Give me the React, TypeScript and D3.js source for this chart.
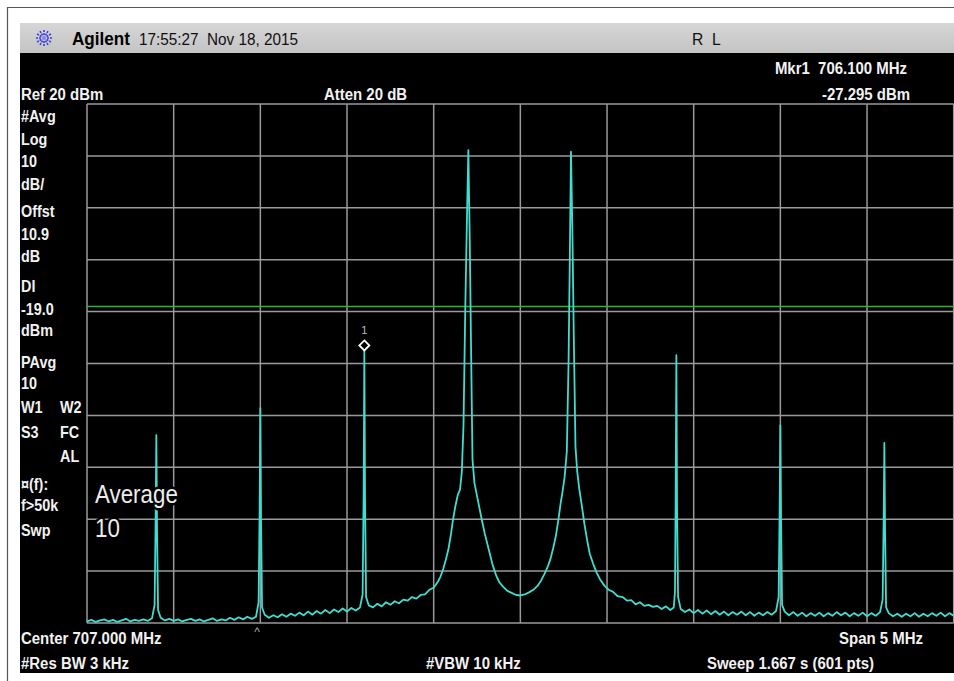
import React from 'react';
import * as d3 from 'd3';

// ---- data ----
const centerMHz = 707.0;
const spanMHz = 5;
const refLevel = 20;
const dbPerDiv = 10;
const divisions = 10;
const displayLine = -19.0;
const markerFreq = 706.1;
const markerLevel = -27.295;

const traceFreq = [
  704.5, 704.525, 704.55, 704.575, 704.6, 704.625, 704.65, 704.675, 704.7, 704.725, 704.75, 704.775, 704.8, 704.825, 704.85, 704.875,
  704.89, 704.896, 704.9, 704.904, 704.91,
  704.925, 704.95, 704.975, 705.0, 705.025, 705.05, 705.075, 705.1, 705.125, 705.15, 705.175, 705.2, 705.225, 705.25, 705.275, 705.3, 705.325, 705.35, 705.375, 705.4, 705.425, 705.45, 705.475,
  705.49, 705.496, 705.5, 705.504, 705.51,
  705.525, 705.55, 705.575, 705.6, 705.625, 705.65, 705.675, 705.7, 705.725, 705.75, 705.775, 705.8, 705.825, 705.85, 705.875, 705.9, 705.925, 705.95, 705.975, 706.0, 706.025, 706.05, 706.075,
  706.09, 706.096, 706.1, 706.104, 706.11,
  706.125, 706.15, 706.175, 706.2, 706.225, 706.25, 706.275, 706.3, 706.325, 706.35, 706.375, 706.4, 706.425, 706.45, 706.475, 706.5, 706.525, 706.54, 706.555, 706.57, 706.585, 706.6, 706.612, 706.625, 706.64, 706.652, 706.662,
  706.672, 706.682, 706.692, 706.7, 706.708, 706.716, 706.724,
  706.735, 706.75, 706.765, 706.78, 706.795, 706.81, 706.825, 706.84, 706.86, 706.88, 706.9, 706.925, 706.95, 706.975, 707.0, 707.025, 707.05, 707.075, 707.1, 707.12, 707.14, 707.16, 707.175, 707.19, 707.205, 707.22, 707.232, 707.242, 707.255, 707.268,
  707.278, 707.286, 707.292, 707.3, 707.308, 707.318,
  707.328, 707.34, 707.355, 707.37, 707.385, 707.4, 707.42, 707.44, 707.46, 707.485, 707.51, 707.535, 707.56, 707.59, 707.615, 707.64, 707.665, 707.69, 707.715, 707.74, 707.765, 707.79, 707.815, 707.84, 707.865, 707.885,
  707.892, 707.896, 707.9, 707.904, 707.91,
  707.925, 707.95, 707.975, 708.0, 708.025, 708.05, 708.075, 708.1, 708.125, 708.15, 708.175, 708.2, 708.225, 708.25, 708.275, 708.3, 708.325, 708.35, 708.375, 708.4, 708.425, 708.45, 708.475,
  708.49, 708.496, 708.5, 708.504, 708.51,
  708.525, 708.55, 708.575, 708.6, 708.625, 708.65, 708.675, 708.7, 708.725, 708.75, 708.775, 708.8, 708.825, 708.85, 708.875, 708.9, 708.925, 708.95, 708.975, 709.0, 709.025, 709.05, 709.075,
  709.09, 709.096, 709.1, 709.104, 709.11,
  709.125, 709.15, 709.175, 709.2, 709.225, 709.25, 709.275, 709.3, 709.325, 709.35, 709.375, 709.4, 709.425, 709.45, 709.475, 709.5,
];

const traceLevel = [
  -79.7, -79.4, -79.8, -79.5, -79.3, -79.7, -79.4, -79.8, -79.5, -79.2, -79.7, -79.4, -79.6, -79.3, -79.6, -79.1,
  -76.5, -60, -43.8, -62, -77.5,
  -79.0, -79.5, -79.2, -79.6, -79.3, -79.7, -79.4, -79.2, -79.6, -79.3, -79.7, -79.4, -79.1, -79.6, -79.3, -79.5, -79.0, -79.4, -78.9, -79.3, -78.8, -79.2, -78.8,
  -76, -58, -38.6, -60, -77,
  -78.4, -79.0, -78.5, -78.9, -78.3, -78.8, -78.2, -78.6, -78.0, -78.5, -77.8, -78.4, -77.7, -78.2, -77.5, -78.1, -77.4, -77.9, -77.2, -77.8, -77.1, -77.6, -77.0,
  -74.5, -55, -27.3, -56, -75,
  -76.6, -77.0, -76.3, -76.8, -76.0, -76.5, -75.8, -76.2, -75.5, -75.7, -75.0, -75.3, -74.6, -74.5, -73.6, -73.2, -72.0, -71.0, -69.6, -67.8, -65.8, -62.8, -60.0, -57.5, -55.2, -54.3, -51.0,
  -42, -20, -2, 11.1, -6, -28, -48.5,
  -53.0, -55.5, -58.0, -60.5, -62.8, -64.8, -66.8, -68.8, -70.8, -72.2, -73.0, -73.8, -74.2, -74.6, -74.7, -74.5, -74.1, -73.6, -72.8, -71.8, -70.5, -69.0, -67.5, -65.5, -63.2, -60.0, -57.0, -55.0, -52.0, -47.0,
  -30, -8, 10.8, -4, -24, -46,
  -50.8, -54.2, -57.5, -61.0, -64.0, -66.6, -68.6, -70.3, -71.6, -72.8, -73.6, -74.0, -74.8, -75.0, -75.7, -75.6, -76.4, -76.0, -76.7, -76.5, -76.9, -76.7, -77.3, -76.8, -77.5, -77.0,
  -74, -56, -28.4, -58, -75,
  -77.3, -77.9, -77.4, -78.1, -77.5, -78.2, -77.6, -78.3, -77.7, -78.4, -77.8, -78.5, -77.9, -78.4, -77.8, -78.5, -77.9, -78.6, -78.0, -78.5, -77.9, -78.4, -77.7,
  -75, -58, -41.9, -60, -76.5,
  -77.8, -78.5, -77.9, -78.6, -78.0, -78.7, -78.1, -78.6, -78.0, -78.7, -78.1, -78.6, -77.9, -78.5, -78.0, -78.7, -78.1, -78.6, -78.0, -78.7, -78.1, -78.6, -77.9,
  -75.5, -60, -45.3, -62, -77,
  -78.1, -78.7, -78.2, -78.8, -78.2, -78.7, -78.1, -78.8, -78.2, -78.7, -78.1, -78.6, -78.0, -78.7, -78.1, -78.6,
];

const headerBrand = 'Agilent';
const headerTime = '17:55:27  Nov 18, 2015';
const headerMode = 'R  L';
const markerLabel = 'Mkr1  706.100 MHz';
const markerValue = '-27.295 dBm';
const refLabel = 'Ref 20 dBm';
const attenLabel = 'Atten 20 dB';
const centerLabel = 'Center 707.000 MHz';
const spanLabel = 'Span 5 MHz';
const rbwLabel = '#Res BW 3 kHz';
const vbwLabel = '#VBW 10 kHz';
const sweepLabel = 'Sweep 1.667 s (601 pts)';

const FONT = '"Liberation Sans", Arial, Helvetica, sans-serif';

function T({ x, y, children, anchor = 'start', weight = 'bold', size = 17, sx = 0.88, fill = '#f2f2f2', halo = false }: any) {
  return (
    <text
      transform={`translate(${x},${y}) scale(${sx},1)`}
      textAnchor={anchor}
      fontWeight={weight}
      fontSize={size}
      fontFamily={FONT}
      fill={fill}
      stroke={halo ? '#000' : 'none'}
      strokeWidth={halo ? 5 : 0}
      style={{ paintOrder: 'stroke', whiteSpace: 'pre' } as any}
    >
      {children}
    </text>
  );
}

export default function App() {
  const W = 954, H = 681;
  const gx0 = 87, gx1 = 953.7, gy0 = 104, gy1 = 623;
  const x = d3.scaleLinear().domain([centerMHz - spanMHz / 2, centerMHz + spanMHz / 2]).range([gx0, gx1]);
  const y = d3.scaleLinear().domain([refLevel, refLevel - dbPerDiv * divisions]).range([gy0, gy1]);

  const fTicks = d3.range(divisions + 1).map((i) => centerMHz - spanMHz / 2 + (i * spanMHz) / divisions);
  const aTicks = d3.range(divisions + 1).map((i) => refLevel - i * dbPerDiv);

  const pts: [number, number][] = traceFreq.map((f, i) => [f, traceLevel[i]]);
  const line = d3.line<[number, number]>().x((d) => x(d[0])).y((d) => y(d[1]));

  const mx = x(markerFreq);
  const my = y(markerLevel) - 4;

  // starburst logo
  const logoCx = 44, logoCy = 38;
  const rays = d3.range(12).map((i) => (i * Math.PI) / 6);

  const leftCol: [string, number][] = [
    ['#Avg', 122], ['Log', 145], ['10', 167], ['dB/', 190], ['Offst', 217], ['10.9', 240], ['dB', 262],
    ['Dl', 292], ['-19.0', 315], ['dBm', 336], ['PAvg', 368], ['10', 389], ['W1', 413], ['S3', 438],
    ['\u00A4(f):', 490], ['f>50k', 511], ['Swp', 536],
  ];
  const leftCol2: [string, number][] = [['W2', 413], ['FC', 438], ['AL', 462]];

  return (
    <svg width={W} height={H} style={{ position: 'absolute', left: 0, top: 0, background: '#fff' }}>
      <rect x={0} y={0} width={W} height={H} fill="#fff" />
      {/* outer frame */}
      <line x1={7} y1={7.5} x2={W} y2={7.5} stroke="#555" strokeWidth={1.2} />
      <line x1={7.5} y1={7} x2={7.5} y2={H} stroke="#555" strokeWidth={1.2} />

      {/* header bar */}
      <defs>
        <linearGradient id="hdr" x1="0" y1="0" x2="0" y2="1">
          <stop offset="0" stopColor="#d6d6d6" />
          <stop offset="1" stopColor="#c4c4c4" />
        </linearGradient>
      </defs>
      <rect x={20} y={23} width={W - 20} height={30} fill="url(#hdr)" />
      <rect x={20} y={53} width={W - 20} height={620} fill="#000" />

      {/* logo */}
      <g>
        {rays.map((a, i) => (
          <line key={i} x1={logoCx + Math.cos(a) * 3} y1={logoCy + Math.sin(a) * 3} x2={logoCx + Math.cos(a) * 9} y2={logoCy + Math.sin(a) * 9}
            stroke="#3c3ce0" strokeWidth={1.6} strokeDasharray="2 1" />
        ))}
        <circle cx={logoCx} cy={logoCy} r={2.2} fill="#8a8af5" />
      </g>
      <T x={72} y={45} size={18} sx={0.95} fill="#000">{headerBrand}</T>
      <T x={139} y={45} size={17} sx={0.9} weight="normal" fill="#111">{headerTime}</T>
      <T x={692} y={45} size={17} sx={0.92} weight="normal" fill="#111">{headerMode}</T>

      {/* top info */}
      <T x={907} y={74} anchor="end">{markerLabel}</T>
      <T x={21} y={100}>{refLabel}</T>
      <T x={324} y={100}>{attenLabel}</T>
      <T x={910} y={100} anchor="end">{markerValue}</T>

      {/* grid */}
      <g stroke="#9a9a9a" strokeWidth={1.5}>
        {fTicks.map((f, i) => (
          <line key={'v' + i} x1={x(f)} x2={x(f)} y1={gy0} y2={gy1} />
        ))}
        {aTicks.map((a, i) => (
          <line key={'h' + i} x1={gx0} x2={gx1} y1={y(a)} y2={y(a)} />
        ))}
      </g>

      {/* display line */}
      <line x1={gx0} x2={gx1} y1={y(displayLine)} y2={y(displayLine)} stroke="#2fb82f" strokeWidth={1.5} />

      {/* trace */}
      <path d={line(pts) || ''} fill="none" stroke="#3fdccf" strokeWidth={1.8} strokeLinejoin="round" />

      {/* marker */}
      <path d={`M${mx},${my - 5} L${mx + 5},${my} L${mx},${my + 5} L${mx - 5},${my} Z`} fill="#000" stroke="#fff" strokeWidth={1.8} />
      <T x={mx} y={my - 11} size={11} sx={1} weight="normal" anchor="middle" fill="#bbb">1</T>

      {/* left column */}
      {leftCol.map(([s, yy], i) => (
        <T key={'l' + i} x={21} y={yy} size={16} sx={0.9}>{s}</T>
      ))}
      {leftCol2.map(([s, yy], i) => (
        <T key={'r' + i} x={60} y={yy} size={16} sx={0.9}>{s}</T>
      ))}

      {/* Average annotation */}
      <T x={95} y={503} size={26} sx={0.86} weight="normal" fill="#ececec" halo>Average</T>
      <T x={95} y={537} size={26} sx={0.86} weight="normal" fill="#ececec" halo>10</T>

      {/* caret */}
      <T x={257} y={636} size={12} sx={1} weight="normal" anchor="middle" fill="#aaa">^</T>

      {/* bottom info */}
      <T x={21} y={644}>{centerLabel}</T>
      <T x={923} y={644} anchor="end">{spanLabel}</T>
      <T x={21} y={669}>{rbwLabel}</T>
      <T x={426} y={669}>{vbwLabel}</T>
      <T x={707} y={669}>{sweepLabel}</T>
    </svg>
  );
}
